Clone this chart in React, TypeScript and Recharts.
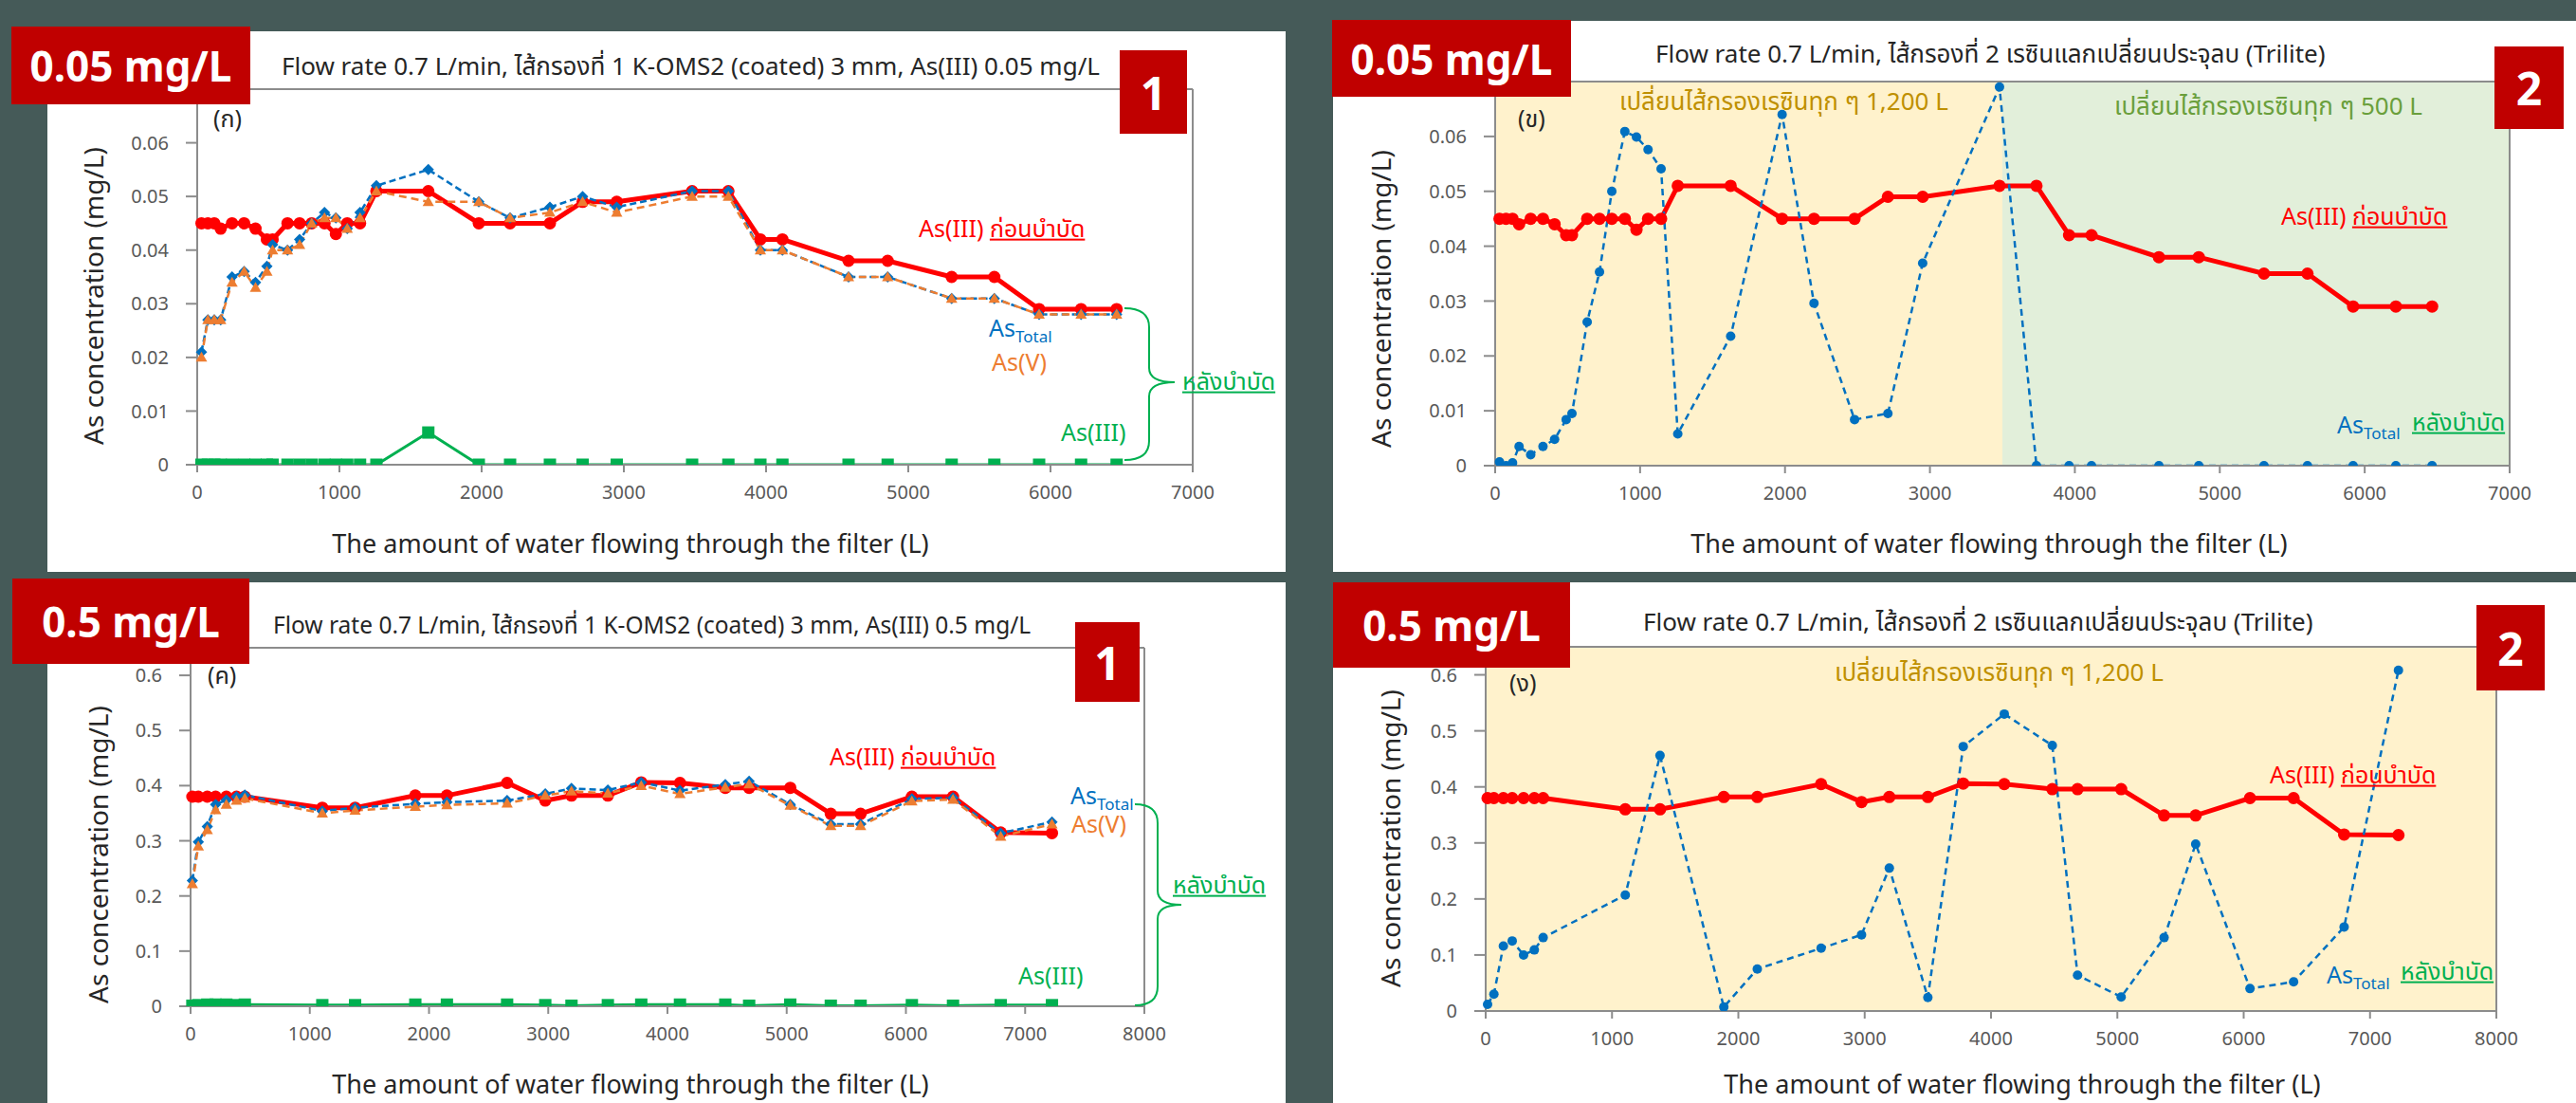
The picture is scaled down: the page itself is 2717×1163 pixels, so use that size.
import React from "react";
import { LineChart, Line, XAxis, YAxis, ReferenceArea, ReferenceLine } from "recharts";

// volumes of water passed (L) — 0.05 mg/L runs
const volLow = [30, 75, 120, 165, 245, 330, 410, 490, 530, 635, 720, 805, 895, 975, 1055, 1145, 1260, 1625, 1980, 2200, 2480, 2710, 2950, 3480, 3735, 3960, 4115, 4580, 4855, 5305, 5605, 5920, 6215, 6465];
// influent As(III), 0.05 mg/L runs
const influentLow = [0.045, 0.045, 0.045, 0.044, 0.045, 0.045, 0.044, 0.042, 0.042, 0.045, 0.045, 0.045, 0.045, 0.043, 0.045, 0.045, 0.051, 0.051, 0.045, 0.045, 0.045, 0.049, 0.049, 0.051, 0.051, 0.042, 0.042, 0.038, 0.038, 0.035, 0.035, 0.029, 0.029, 0.029];
// filter 1 effluent
const f1LowTotal = [0.021, 0.027, 0.027, 0.027, 0.035, 0.036, 0.034, 0.037, 0.041, 0.040, 0.042, 0.045, 0.047, 0.046, 0.044, 0.047, 0.052, 0.055, 0.049, 0.046, 0.048, 0.050, 0.048, 0.051, 0.051, 0.040, 0.040, 0.035, 0.035, 0.031, 0.031, 0.028, 0.028, 0.028];
const f1LowAsV = [0.020, 0.027, 0.027, 0.027, 0.034, 0.036, 0.033, 0.036, 0.040, 0.040, 0.041, 0.045, 0.046, 0.046, 0.044, 0.046, 0.051, 0.049, 0.049, 0.046, 0.047, 0.049, 0.047, 0.050, 0.050, 0.040, 0.040, 0.035, 0.035, 0.031, 0.031, 0.028, 0.028, 0.028];
const f1LowAsIII = [0, 0, 0, 0, 0, 0, 0, 0, 0, 0, 0, 0, 0, 0, 0, 0, 0, 0.006, 0, 0, 0, 0, 0, 0, 0, 0, 0, 0, 0, 0, 0, 0, 0, 0];
// filter 2 (resin) effluent
const f2LowTotal = [0.0007, 0, 0.0005, 0.0035, 0.002, 0.0035, 0.0048, 0.0084, 0.0095, 0.0262, 0.0353, 0.050, 0.0609, 0.0599, 0.0576, 0.0541, 0.0058, 0.0236, 0.064, 0.0296, 0.0084, 0.0095, 0.0369, 0.069, 0, 0, 0, 0, 0, 0, 0, 0, 0, 0];

// 0.5 mg/L runs
const volHigh = [15, 65, 140, 210, 300, 385, 455, 1105, 1380, 1885, 2150, 2655, 2975, 3195, 3500, 3780, 4105, 4485, 4685, 5030, 5370, 5620, 6050, 6395, 6795, 7225];
const influentHigh = [0.38, 0.38, 0.38, 0.38, 0.38, 0.38, 0.38, 0.36, 0.36, 0.382, 0.382, 0.405, 0.373, 0.382, 0.382, 0.406, 0.405, 0.396, 0.396, 0.396, 0.349, 0.349, 0.38, 0.38, 0.315, 0.314];
const f1HighTotal = [0.228, 0.298, 0.326, 0.366, 0.374, 0.38, 0.383, 0.354, 0.36, 0.367, 0.37, 0.373, 0.385, 0.395, 0.392, 0.406, 0.391, 0.402, 0.408, 0.366, 0.33, 0.33, 0.376, 0.378, 0.314, 0.334];
const f1HighAsV = [0.222, 0.29, 0.32, 0.356, 0.366, 0.373, 0.377, 0.35, 0.355, 0.362, 0.365, 0.368, 0.382, 0.39, 0.386, 0.40, 0.385, 0.397, 0.403, 0.364, 0.327, 0.327, 0.372, 0.375, 0.308, 0.33];
const f1HighAsIII = [0.001, 0.002, 0.003, 0.003, 0.003, 0.002, 0.003, 0.002, 0.002, 0.003, 0.003, 0.003, 0.002, 0.001, 0.002, 0.003, 0.003, 0.003, 0.001, 0.003, 0.001, 0.001, 0.002, 0.001, 0.002, 0.002];
const f2HighTotal = [0.012, 0.030, 0.116, 0.125, 0.100, 0.109, 0.131, 0.207, 0.456, 0.007, 0.075, 0.112, 0.136, 0.255, 0.024, 0.472, 0.530, 0.474, 0.064, 0.025, 0.131, 0.298, 0.040, 0.052, 0.150, 0.608];

const ticksLowY = [0, 0.01, 0.02, 0.03, 0.04, 0.05, 0.06];
const ticksHighY = [0, 0.1, 0.2, 0.3, 0.4, 0.5, 0.6];
const ticks7000 = [0, 1000, 2000, 3000, 4000, 5000, 6000, 7000];
const ticks8000 = [0, 1000, 2000, 3000, 4000, 5000, 6000, 7000, 8000];

const FONT = "'Noto Sans', 'Noto Sans Thai', 'DejaVu Sans', sans-serif";
const RED = "#FF0000";
const BLUE = "#0070C0";
const ORANGE = "#ED7D31";
const GREEN = "#00B050";
const AXIS = "#8c8c8c";

const toRows = (vols: number[], cols: Record<string, number[]>) =>
  vols.map((x, i) => {
    const r: any = { x };
    Object.keys(cols).forEach((k) => (r[k] = cols[k][i]));
    return r;
  });

const circleDot = (r: number, fill: string) => (p: any) =>
  <circle key={`c${p.index}`} cx={p.cx} cy={p.cy} r={r} fill={fill} />;
const squareDot = (s: number, fill: string) => (p: any) =>
  <rect key={`s${p.index}`} x={p.cx - s / 2} y={p.cy - s / 2} width={s} height={s} fill={fill} />;
const triDot = (s: number, fill: string) => (p: any) =>
  <polygon key={`t${p.index}`} points={`${p.cx},${p.cy - s} ${p.cx - s},${p.cy + s * 0.75} ${p.cx + s},${p.cy + s * 0.75}`} fill={fill} />;
const diamondDot = (s: number, fill: string) => (p: any) =>
  <polygon key={`d${p.index}`} points={`${p.cx},${p.cy - s} ${p.cx + s},${p.cy} ${p.cx},${p.cy + s} ${p.cx - s},${p.cy}`} fill={fill} />;

type Series = { key: string; color: string; width: number; dash?: string; dot: any };

const PAD_L = 130, PAD_T = 12, PAD_R = 50, PAD_B = 70;

function Panel(props: {
  l: number; t: number; r: number; b: number;
  data: any[]; series: Series[];
  xMax: number; xTicks: number[]; yMax: number; yTicks: number[];
  areas?: { x1: number; x2: number; fill: string }[];
}) {
  const { l, t, r, b, data, series, xMax, xTicks, yMax, yTicks, areas = [] } = props;
  const w = r - l + PAD_L + PAD_R;
  const h = b - t + PAD_T + PAD_B;
  return (
    <div style={{ position: "absolute", left: l - PAD_L, top: t - PAD_T }}>
      <LineChart width={w} height={h} data={data} margin={{ top: PAD_T, right: PAD_R, bottom: 0, left: 0 }}>
        {areas.map((a, i) => (
          <ReferenceArea key={`a${i}`} x1={a.x1} x2={a.x2} y1={0} y2={yMax} fill={a.fill} fillOpacity={1} stroke="none" />
        ))}
        <XAxis
          type="number" dataKey="x" domain={[0, xMax]} ticks={xTicks} height={PAD_B}
          axisLine={{ stroke: AXIS, strokeWidth: 2 }} tickLine={{ stroke: AXIS, strokeWidth: 2 }}
          tickSize={8} tickMargin={14} tick={{ fill: "#595959", fontSize: 20, fontFamily: FONT }}
        />
        <YAxis
          type="number" domain={[0, yMax]} ticks={yTicks} width={PAD_L} allowDataOverflow
          axisLine={{ stroke: AXIS, strokeWidth: 2 }} tickLine={{ stroke: AXIS, strokeWidth: 2 }}
          tickSize={12} tickMargin={18} tick={{ fill: "#595959", fontSize: 20, fontFamily: FONT }}
          tickFormatter={(v: number) => String(v)}
        />
        <ReferenceLine y={yMax} stroke={AXIS} strokeWidth={2} />
        <ReferenceLine x={xMax} stroke={AXIS} strokeWidth={2} />
        {series.map((s) => (
          <Line
            key={s.key} dataKey={s.key} type="linear" stroke={s.color} strokeWidth={s.width}
            strokeDasharray={s.dash} dot={s.dot} activeDot={false} isAnimationActive={false}
          />
        ))}
      </LineChart>
    </div>
  );
}

function Txt({ x, y, size = 25, color = "#262626", children, style }: any) {
  return (
    <div style={{ position: "absolute", left: x, top: y, transform: "translateY(-50%)", fontSize: size, color, fontFamily: FONT, lineHeight: 1.15, whiteSpace: "nowrap", ...style }}>
      {children}
    </div>
  );
}

function Box({ l, t, w, h, text, size }: any) {
  return (
    <div style={{ position: "absolute", left: l, top: t, width: w, height: h, background: "#C00000", color: "#fff", fontFamily: FONT, fontWeight: 700, fontSize: size, display: "flex", alignItems: "center", justifyContent: "center", whiteSpace: "nowrap" }}>
      {text}
    </div>
  );
}

function YTitle({ cx, cy }: any) {
  return (
    <div style={{ position: "absolute", left: cx, top: cy, transform: "translate(-50%,-50%) rotate(-90deg)", fontSize: 28, fontFamily: FONT, color: "#262626", whiteSpace: "nowrap" }}>
      As concentration (mg/L)
    </div>
  );
}

function XTitle({ cx, cy }: any) {
  return (
    <div style={{ position: "absolute", left: cx, top: cy, transform: "translate(-50%,-50%)", fontSize: 27, fontFamily: FONT, color: "#262626", whiteSpace: "nowrap" }}>
      The amount of water flowing through the filter (L)
    </div>
  );
}

const AsTotal = ({ x, y }: any) => (
  <Txt x={x} y={y} color={BLUE}>As<sub style={{ fontSize: 17, verticalAlign: "-6px" }}>Total</sub></Txt>
);
const Before = ({ x, y }: any) => (
  <Txt x={x} y={y} color={RED} size={25}>As(III) <u>ก่อนบำบัด</u></Txt>
);
const After = ({ x, y }: any) => (
  <Txt x={x} y={y} color={GREEN} size={25}><u>หลังบำบัด</u></Txt>
);

export default function App() {
  const d1 = toRows(volLow, { before: influentLow, total: f1LowTotal, asv: f1LowAsV, after: f1LowAsIII });
  const d2 = toRows(volLow, { before: influentLow, total: f2LowTotal });
  const d3 = toRows(volHigh, { before: influentHigh, total: f1HighTotal, asv: f1HighAsV, after: f1HighAsIII });
  const d4 = toRows(volHigh, { before: influentHigh, total: f2HighTotal });

  const filter1Series: Series[] = [
    { key: "before", color: RED, width: 5, dot: circleDot(6.5, RED) },
    { key: "total", color: BLUE, width: 2.5, dash: "7 4", dot: diamondDot(6, BLUE) },
    { key: "asv", color: ORANGE, width: 2.5, dash: "8 5", dot: triDot(6, ORANGE) },
    { key: "after", color: GREEN, width: 3, dot: squareDot(13, GREEN) },
  ];
  const filter2Series: Series[] = [
    { key: "before", color: RED, width: 5, dot: circleDot(6.5, RED) },
    { key: "total", color: BLUE, width: 2.5, dash: "7 5", dot: circleDot(5, BLUE) },
  ];

  return (
    <div style={{ position: "fixed", left: 0, top: 0, width: 2717, height: 1163, background: "#455a58", overflow: "hidden", fontFamily: FONT }}>
      {/* white cards */}
      <div style={{ position: "absolute", left: 50, top: 33, width: 1306, height: 570, background: "#fff" }} />
      <div style={{ position: "absolute", left: 1406, top: 22, width: 1311, height: 581, background: "#fff" }} />
      <div style={{ position: "absolute", left: 50, top: 614, width: 1306, height: 549, background: "#fff" }} />
      <div style={{ position: "absolute", left: 1406, top: 614, width: 1311, height: 549, background: "#fff" }} />

      {/* panel 1 */}
      <Panel l={208} t={94} r={1258} b={490} data={d1} series={filter1Series} xMax={7000} xTicks={ticks7000} yMax={0.07} yTicks={ticksLowY} />
      {/* panel 2 */}
      <Panel l={1577} t={86} r={2647} b={491} data={d2} series={filter2Series} xMax={7000} xTicks={ticks7000} yMax={0.07} yTicks={ticksLowY}
        areas={[{ x1: 0, x2: 3500, fill: "#FFF2CC" }, { x1: 3500, x2: 7000, fill: "#E2EFDA" }]} />
      {/* panel 3 */}
      <Panel l={201} t={683} r={1207} b={1061} data={d3} series={filter1Series} xMax={8000} xTicks={ticks8000} yMax={0.65} yTicks={ticksHighY} />
      {/* panel 4 */}
      <Panel l={1567} t={682} r={2633} b={1066} data={d4} series={filter2Series} xMax={8000} xTicks={ticks8000} yMax={0.65} yTicks={ticksHighY}
        areas={[{ x1: 0, x2: 8000, fill: "#FFF2CC" }]} />

      {/* axis titles */}
      <YTitle cx={98} cy={312} />
      <XTitle cx={665} cy={572} />
      <YTitle cx={1456} cy={315} />
      <XTitle cx={2098} cy={572} />
      <YTitle cx={103} cy={901} />
      <XTitle cx={665} cy={1142} />
      <YTitle cx={1466} cy={884} />
      <XTitle cx={2133} cy={1142} />

      {/* chart titles */}
      <Txt x={297} y={70} size={26}>Flow rate 0.7 L/min, ไส้กรองที่ 1 K-OMS2 (coated) 3 mm, As(III) 0.05 mg/L</Txt>
      <Txt x={1746} y={57} size={26}>Flow rate 0.7 L/min, ไส้กรองที่ 2 เรซินแลกเปลี่ยนประจุลบ (Trilite)</Txt>
      <Txt x={288} y={659} size={24.5}>Flow rate 0.7 L/min, ไส้กรองที่ 1 K-OMS2 (coated) 3 mm, As(III) 0.5 mg/L</Txt>
      <Txt x={1733} y={656} size={26}>Flow rate 0.7 L/min, ไส้กรองที่ 2 เรซินแลกเปลี่ยนประจุลบ (Trilite)</Txt>

      {/* panel letters */}
      <Txt x={225} y={124} size={25}>(ก)</Txt>
      <Txt x={1601} y={124} size={25}>(ข)</Txt>
      <Txt x={219} y={711} size={25}>(ค)</Txt>
      <Txt x={1592} y={719} size={25}>(ง)</Txt>

      {/* panel 1 annotations */}
      <Before x={969} y={240} />
      <AsTotal x={1043} y={348} />
      <Txt x={1046} y={381} color={ORANGE}>As(V)</Txt>
      <Txt x={1119} y={455} color={GREEN}>As(III)</Txt>
      <After x={1247} y={401} />

      {/* panel 2 annotations */}
      <Txt x={1708} y={107} color="#BF9000" size={26}>เปลี่ยนไส้กรองเรซินทุก ๆ 1,200 L</Txt>
      <Txt x={2230} y={112} color="#6a9f3c" size={26}>เปลี่ยนไส้กรองเรซินทุก ๆ 500 L</Txt>
      <Before x={2406} y={227} />
      <AsTotal x={2465} y={450} />
      <After x={2544} y={444} />

      {/* panel 3 annotations */}
      <Before x={875} y={797} />
      <AsTotal x={1129} y={841} />
      <Txt x={1130} y={868} color={ORANGE}>As(V)</Txt>
      <Txt x={1074} y={1028} color={GREEN}>As(III)</Txt>
      <After x={1237} y={932} />

      {/* panel 4 annotations */}
      <Txt x={1935} y={709} color="#BF9000" size={26}>เปลี่ยนไส้กรองเรซินทุก ๆ 1,200 L</Txt>
      <Before x={2394} y={816} />
      <AsTotal x={2454} y={1030} />
      <After x={2532} y={1023} />

      {/* braces */}
      <svg width={2717} height={1163} style={{ position: "absolute", left: 0, top: 0, pointerEvents: "none" }}>
        <path d="M1186,325 Q1212,325 1212,345 L1212,388 Q1212,403 1239,403 Q1212,403 1212,418 L1212,465 Q1212,485 1186,485" fill="none" stroke={GREEN} strokeWidth={2} />
        <path d="M1197,848 Q1221,848 1221,868 L1221,939 Q1221,954 1246,954 Q1221,954 1221,969 L1221,1040 Q1221,1060 1197,1060" fill="none" stroke={GREEN} strokeWidth={2} />
      </svg>

      {/* labels */}
      <Box l={12} t={28} w={252} h={82} text="0.05 mg/L" size={44} />
      <Box l={1405} t={21} w={252} h={81} text="0.05 mg/L" size={44} />
      <Box l={13} t={610} w={250} h={90} text="0.5 mg/L" size={44} />
      <Box l={1406} t={614} w={250} h={90} text="0.5 mg/L" size={44} />
      <Box l={1181} t={53} w={71} h={88} text="1" size={48} />
      <Box l={2631} t={49} w={73} h={87} text="2" size={48} />
      <Box l={1134} t={656} w={68} h={84} text="1" size={48} />
      <Box l={2612} t={638} w={72} h={90} text="2" size={48} />
    </div>
  );
}
